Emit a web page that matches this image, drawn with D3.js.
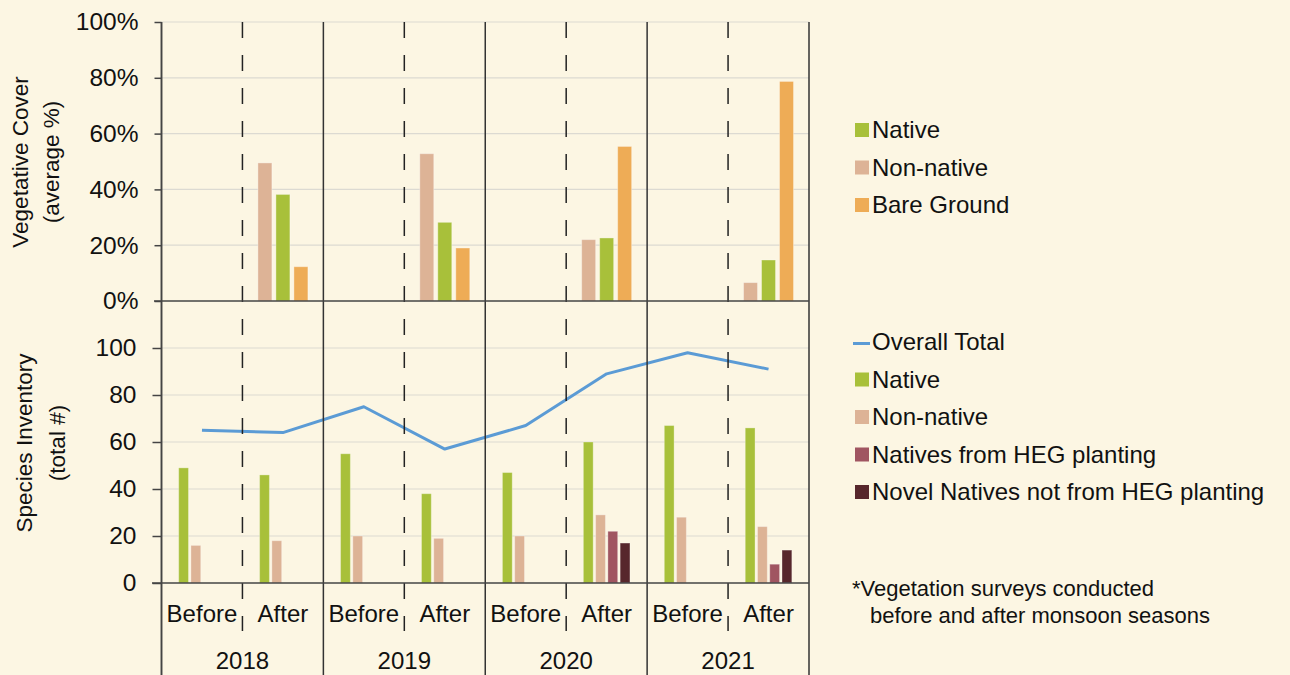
<!doctype html>
<html>
<head>
<meta charset="utf-8" />
<title>Vegetative Cover and Species Inventory</title>
<script src="https://cdn.jsdelivr.net/npm/d3@7"></script>
<style>
  body{margin:0;padding:0;background:#fcf6e3;}
  svg text{font-family:"Liberation Sans", Arial, sans-serif;fill:#111;}
</style>
</head>
<body>
<script>

  // categorie: anno x periodo
  var years   = ["2018", "2019", "2020", "2021"];
  var periods = ["Before", "After"];

  // pannello alto: copertura vegetale media (%), solo rilievi "After"
  var coverNonNative = [null, 49.5, null, 52.8, null, 22.0, null, 6.6];
  var coverNative    = [null, 38.2, null, 28.2, null, 22.6, null, 14.7];
  var coverBare      = [null, 12.3, null, 19.0, null, 55.4, null, 78.7];

  // pannello basso: inventario specie (numero totale)
  var invNative    = [49, 46, 55, 38, 47, 60, 67, 66];
  var invNonNative = [16, 18, 20, 19, 20, 29, 28, 24];
  var invHEG       = [null, null, null, null, null, 22, null, 8];
  var invNovel     = [null, null, null, null, null, 17, null, 14];
  var invTotal     = [65, 64, 75, 57, 67, 89, 98, 91];

  var topTicks = [0, 20, 40, 60, 80, 100];
  var botTicks = [0, 20, 40, 60, 80, 100];

  var colors = {
    native: "#a8c03a",
    nonNative: "#ddb396",
    bare: "#eeac56",
    heg: "#a05561",
    novel: "#57272c",
    total: "#5b9bd5"
  };

  var width = 1290, height = 675;
  var svg = d3.select("body").append("svg").attr("width", width).attr("height", height);

  // lista categorie "2018|Before" ...
  var cats = [];
  years.forEach(function(y){ periods.forEach(function(p){ cats.push(y + "|" + p); }); });

  var x = d3.scaleBand().domain(cats).range([161.5, 809]).padding(0);
  var yTop = d3.scaleLinear().domain([0, 100]).range([301, 22]);
  var yBot = d3.scaleLinear().domain([0, 120]).range([583, 301]);

  // griglie
  svg.append("g").selectAll("line").data(topTicks.slice(1)).enter().append("line")
    .attr("x1", 161.5).attr("x2", 809)
    .attr("y1", function(d){ return yTop(d); }).attr("y2", function(d){ return yTop(d); })
    .attr("stroke", "#dcdad2").attr("stroke-width", 1.2);
  svg.append("g").selectAll("line").data(botTicks.slice(1)).enter().append("line")
    .attr("x1", 161.5).attr("x2", 809)
    .attr("y1", function(d){ return yBot(d); }).attr("y2", function(d){ return yBot(d); })
    .attr("stroke", "#dcdad2").attr("stroke-width", 1.2);

  // barre pannello alto
  var topKeys = ["nonNative", "native", "bare"];
  var topSeries = { nonNative: coverNonNative, native: coverNative, bare: coverBare };
  var xTop = d3.scaleBand().domain(topKeys).range([0, 50]).paddingInner(0.222);
  topKeys.forEach(function(k){
    svg.append("g").selectAll("rect")
      .data(cats.map(function(c, i){ return {cat: c, v: topSeries[k][i]}; }).filter(function(d){ return d.v !== null; }))
      .enter().append("rect")
      .attr("x", function(d){ return x(d.cat) + (x.bandwidth() - 50) / 2 + xTop(k); })
      .attr("y", function(d){ return yTop(d.v); })
      .attr("width", xTop.bandwidth())
      .attr("height", function(d){ return yTop(0) - yTop(d.v); })
      .attr("fill", colors[k])
      .attr("stroke", "#fff").attr("stroke-opacity", 0.35).attr("stroke-width", 1);
  });

  // barre pannello basso
  var botKeys = ["native", "nonNative", "heg", "novel"];
  var botSeries = { native: invNative, nonNative: invNonNative, heg: invHEG, novel: invNovel };
  var xBot = d3.scaleBand().domain(botKeys).range([0, 46.6]).paddingInner(0.2);
  botKeys.forEach(function(k){
    svg.append("g").selectAll("rect")
      .data(cats.map(function(c, i){ return {cat: c, v: botSeries[k][i]}; }).filter(function(d){ return d.v !== null; }))
      .enter().append("rect")
      .attr("x", function(d){ return x(d.cat) + (x.bandwidth() - 46.6) / 2 + xBot(k); })
      .attr("y", function(d){ return yBot(d.v); })
      .attr("width", xBot.bandwidth())
      .attr("height", function(d){ return yBot(0) - yBot(d.v); })
      .attr("fill", colors[k])
      .attr("stroke", "#fff").attr("stroke-opacity", 0.3).attr("stroke-width", 1);
  });

  // linea totale
  var line = d3.line()
    .x(function(d, i){ return x(cats[i]) + x.bandwidth() / 2; })
    .y(function(d){ return yBot(d); });
  svg.append("path").datum(invTotal)
    .attr("d", line).attr("fill", "none")
    .attr("stroke", colors.total).attr("stroke-width", 3).attr("stroke-linejoin", "round");

  // linee tratteggiate Before/After
  svg.append("g").selectAll("line").data(cats.filter(function(c){ return c.indexOf("After") > 0; })).enter().append("line")
    .attr("x1", function(d){ return x(d); }).attr("x2", function(d){ return x(d); })
    .attr("y1", 22).attr("y2", 631)
    .attr("stroke", "#222").attr("stroke-width", 1.5).attr("stroke-dasharray", "16,17");

  // linee continue tra anni
  var yearEdges = cats.filter(function(c){ return c.indexOf("Before") > 0; }).map(function(c){ return x(c); });
  yearEdges.push(x.range()[1]);
  svg.append("g").selectAll("line").data(yearEdges).enter().append("line")
    .attr("x1", function(d){ return d; }).attr("x2", function(d){ return d; })
    .attr("y1", 22).attr("y2", height)
    .attr("stroke", "#333").attr("stroke-width", 1.5);

  // assi y
  var axTop = svg.append("g").attr("transform", "translate(161.5,0)")
    .call(d3.axisLeft(yTop).tickValues(topTicks).tickSize(7).tickPadding(16).tickFormat(function(d){ return d + "%"; }));
  var axBot = svg.append("g").attr("transform", "translate(161.5,0)")
    .call(d3.axisLeft(yBot).tickValues(botTicks).tickSize(9).tickPadding(16));
  [axTop, axBot].forEach(function(a){
    a.select(".domain").remove();
    a.selectAll(".tick line").attr("stroke", "#444").attr("stroke-width", 1.5);
    a.selectAll(".tick text").attr("font-size", "24.5px").attr("fill", "#111");
  });
  svg.append("line").attr("x1", 161.5).attr("x2", 161.5).attr("y1", 22).attr("y2", height)
    .attr("stroke", "#444").attr("stroke-width", 1.5);

  // assi orizzontali
  svg.append("line").attr("x1", 154).attr("x2", 809).attr("y1", yTop(0)).attr("y2", yTop(0))
    .attr("stroke", "#444").attr("stroke-width", 1.5);
  svg.append("line").attr("x1", 152).attr("x2", 809).attr("y1", yBot(0)).attr("y2", yBot(0))
    .attr("stroke", "#444").attr("stroke-width", 1.5);

  // etichette categorie
  svg.append("g").selectAll("text").data(cats).enter().append("text")
    .attr("x", function(d){ return x(d) + x.bandwidth() / 2; })
    .attr("y", 614).attr("dy", "0.35em")
    .attr("text-anchor", "middle").attr("font-size", "24px")
    .text(function(d){ return d.split("|")[1]; });
  svg.append("g").selectAll("text").data(years).enter().append("text")
    .attr("x", function(d){ return (x(d + "|Before") + x(d + "|After") + x.bandwidth()) / 2; })
    .attr("y", 661).attr("dy", "0.35em")
    .attr("text-anchor", "middle").attr("font-size", "24px")
    .text(function(d){ return d; });

  // titoli assi
  function axisTitle(cy, lines, xs){
    lines.forEach(function(t, i){
      svg.append("text")
        .attr("transform", "translate(" + xs[i] + "," + cy + ") rotate(-90)")
        .attr("text-anchor", "middle").attr("dy", "0.35em").attr("font-size", "22.5px")
        .attr("fill", "#222")
        .text(t);
    });
  }
  axisTitle(162, ["Vegetative Cover", "(average %)"], [20, 51]);
  axisTitle(443, ["Species Inventory", "(total #)"], [24, 57]);

  // legende
  var legTop = [["native", "Native"], ["nonNative", "Non-native"], ["bare", "Bare Ground"]];
  legTop.forEach(function(d, i){
    var cy = 130 + i * 37.5;
    svg.append("rect").attr("x", 855).attr("y", cy - 7).attr("width", 14).attr("height", 14).attr("fill", colors[d[0]]);
    svg.append("text").attr("x", 872).attr("y", cy).attr("dy", "0.35em").attr("font-size", "24px").text(d[1]);
  });

  var legBot = [["total", "Overall Total"], ["native", "Native"], ["nonNative", "Non-native"],
                ["heg", "Natives from HEG planting"], ["novel", "Novel Natives not from HEG planting"]];
  legBot.forEach(function(d, i){
    var cy = 342 + i * 37.5;
    if (d[0] === "total") {
      svg.append("line").attr("x1", 853).attr("x2", 870).attr("y1", cy + 1.5).attr("y2", cy + 1.5)
        .attr("stroke", colors.total).attr("stroke-width", 3);
    } else {
      svg.append("rect").attr("x", 855).attr("y", cy - 7).attr("width", 14).attr("height", 14).attr("fill", colors[d[0]]);
    }
    svg.append("text").attr("x", 872).attr("y", cy).attr("dy", "0.35em").attr("font-size", "24px").text(d[1]);
  });

  // nota
  svg.append("text").attr("x", 852).attr("y", 588).attr("dy", "0.35em").attr("font-size", "22px").attr("fill", "#222")
    .text("*Vegetation surveys conducted");
  svg.append("text").attr("x", 870).attr("y", 615).attr("dy", "0.35em").attr("font-size", "22px").attr("fill", "#222")
    .text("before and after monsoon seasons");

</script>
</body>
</html>
